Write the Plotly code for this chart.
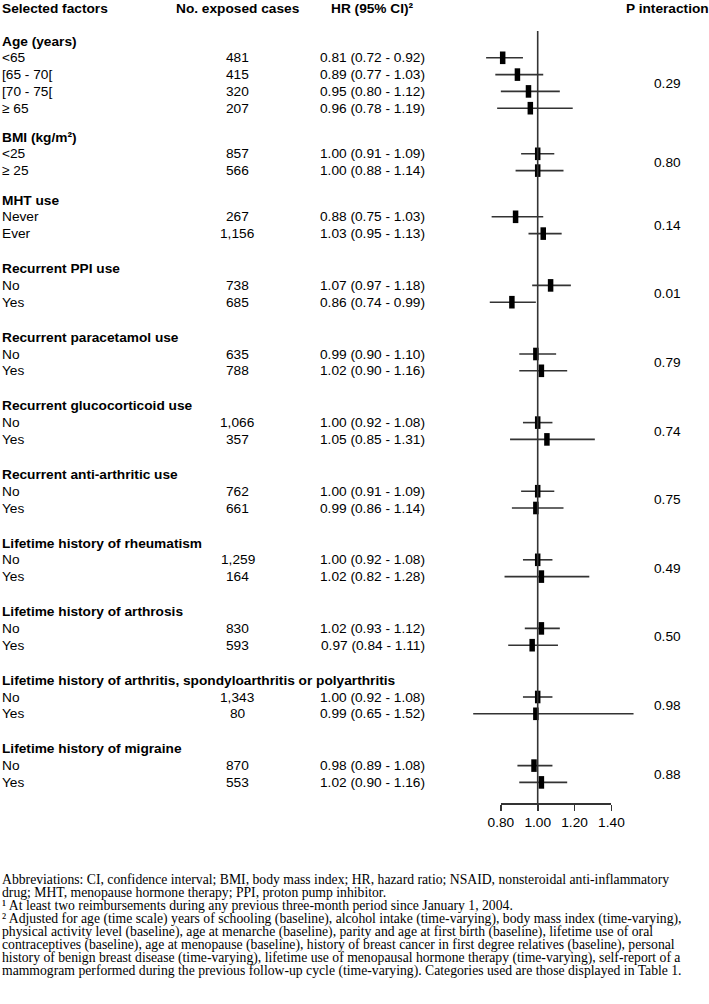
import plotly.graph_objects as go

# ---------------- data ----------------
group_names = [
    "Age (years)",
    "BMI (kg/m²)",
    "MHT use",
    "Recurrent PPI use",
    "Recurrent paracetamol use",
    "Recurrent glucocorticoid use",
    "Recurrent anti-arthritic use",
    "Lifetime history of rheumatism",
    "Lifetime history of arthrosis",
    "Lifetime history of arthritis, spondyloarthritis or polyarthritis",
    "Lifetime history of migraine",
]
group_sizes = [4, 2, 2, 2, 2, 2, 2, 2, 2, 2, 2]
p_interaction = ["0.29", "0.80", "0.14", "0.01", "0.79", "0.74", "0.75", "0.49", "0.50", "0.98", "0.88"]

row_labels = ["<65", "[65 - 70[", "[70 - 75[", "≥ 65",
              "<25", "≥ 25",
              "Never", "Ever",
              "No", "Yes", "No", "Yes", "No", "Yes", "No", "Yes",
              "No", "Yes", "No", "Yes", "No", "Yes", "No", "Yes"]
exposed_cases = [481, 415, 320, 207,
                 857, 566,
                 267, 1156,
                 738, 685, 635, 788, 1066, 357, 762, 661,
                 1259, 164, 830, 593, 1343, 80, 870, 553]
hr = [0.81, 0.89, 0.95, 0.96,
      1.00, 1.00,
      0.88, 1.03,
      1.07, 0.86, 0.99, 1.02, 1.00, 1.05, 1.00, 0.99,
      1.00, 1.02, 1.02, 0.97, 1.00, 0.99, 0.98, 1.02]
ci_low = [0.72, 0.77, 0.80, 0.78,
          0.91, 0.88,
          0.75, 0.95,
          0.97, 0.74, 0.90, 0.90, 0.92, 0.85, 0.91, 0.86,
          0.92, 0.82, 0.93, 0.84, 0.92, 0.65, 0.89, 0.90]
ci_high = [0.92, 1.03, 1.12, 1.19,
           1.09, 1.14,
           1.03, 1.13,
           1.18, 0.99, 1.10, 1.16, 1.08, 1.31, 1.09, 1.14,
           1.08, 1.28, 1.12, 1.11, 1.08, 1.52, 1.08, 1.16]
axis_ticks = [0.80, 1.00, 1.20, 1.40]

header_labels = ["Selected factors", "No. exposed cases", "HR (95% CI)²", "P interaction"]

footnotes = [
    "Abbreviations: CI, confidence interval; BMI, body mass index; HR, hazard ratio; NSAID, nonsteroidal anti-inflammatory",
    "drug; MHT, menopause hormone therapy; PPI, proton pump inhibitor.",
    "¹ At least two reimbursements during any previous three-month period since January 1, 2004.",
    "² Adjusted for age (time scale) years of schooling (baseline), alcohol intake (time-varying), body mass index (time-varying),",
    "physical activity level (baseline), age at menarche (baseline), parity and age at first birth (baseline), lifetime use of oral",
    "contraceptives (baseline), age at menopause (baseline), history of breast cancer in first degree relatives (baseline), personal",
    "history of benign breast disease (time-varying), lifetime use of menopausal hormone therapy (time-varying), self-report of a",
    "mammogram performed during the previous follow-up cycle (time-varying). Categories used are those displayed in Table 1.",
]

# ---------------- layout constants ----------------
W, H = 709, 1004
SANS = "Liberation Sans, Arial, sans-serif"
SERIF = "Liberation Serif, Times New Roman, serif"
FS = 13.7
REF_PX = 537.7          # pixel of HR = 1.00
PX_PER_UNIT = 184.3
LINE = 16.8
FIRST_HEAD = 41
group_gaps = [0, 12, 12.6] + [18.2] * 8
AXIS_Y = 803
REF_TOP = 31
COL_N = 238
COL_HR = 372.5
COL_P = 667
FOOT_Y0, FOOT_STEP, FOOT_FS = 879, 13.2, 13.7

def px(v):
    return REF_PX + (v - 1.0) * PX_PER_UNIT

# compute vertical positions
head_y, row_y, p_y = [], [], []
y = FIRST_HEAD
for gi, size in enumerate(group_sizes):
    if gi > 0:
        y += LINE + group_gaps[gi]
    head_y.append(y)
    ys = []
    for _ in range(size):
        y += LINE
        ys.append(y)
    row_y.extend(ys)
    p_y.append(sum(ys) / len(ys))

fig = go.Figure()

# CIs and point estimates
fig.add_trace(go.Scatter(
    x=hr, y=row_y, mode="markers",
    marker=dict(symbol="line-ns", size=9, line=dict(width=5.5, color="black")),
    error_x=dict(type="data", symmetric=False,
                 array=[h - e for e, h in zip(hr, ci_high)],
                 arrayminus=[e - l for e, l in zip(hr, ci_low)],
                 thickness=1.6, width=0, color="#333333"),
    showlegend=False, hoverinfo="skip", xaxis="x", yaxis="y",
))
# reference line at HR = 1, on the small axis subplot
fig.add_trace(go.Scatter(
    x=[1.0, 1.0], y=[REF_TOP, AXIS_Y], mode="lines",
    line=dict(color="#333333", width=1.6),
    showlegend=False, hoverinfo="skip", xaxis="x2", yaxis="y",
))

ann = []
def text(x, y, s, anchor="left", bold=False, font=SANS, size=FS):
    ann.append(dict(x=x / W, y=y, xref="paper", yref="y", text=(f"<b>{s}</b>" if bold else s),
                    showarrow=False, xanchor=anchor, yanchor="middle",
                    font=dict(family=font, size=size, color="black")))

# header
text(0, 8, header_labels[0], bold=True)
text(COL_N, 8, header_labels[1], "center", bold=True)
text(COL_HR, 8, header_labels[2], "center", bold=True)
text(COL_P, 8, header_labels[3], "center", bold=True)

for gi, g in enumerate(group_names):
    text(0, head_y[gi], g, bold=True)
    text(COL_P, p_y[gi], p_interaction[gi], "center")

for i, lab in enumerate(row_labels):
    text(0, row_y[i], lab)
    text(COL_N, row_y[i], f"{exposed_cases[i]:,}", "center")
    text(COL_HR, row_y[i], f"{hr[i]:.2f} ({ci_low[i]:.2f} - {ci_high[i]:.2f})", "center")

for k, line in enumerate(footnotes):
    text(0, FOOT_Y0 + k * FOOT_STEP, line, font=SERIF, size=FOOT_FS)

fig.update_layout(
    width=W, height=H, margin=dict(l=0, r=0, t=0, b=0, pad=0, autoexpand=False),
    paper_bgcolor="white", plot_bgcolor="rgba(0,0,0,0)",
    hovermode=False,
    xaxis=dict(range=[1 - REF_PX / PX_PER_UNIT, 1 + (W - REF_PX) / PX_PER_UNIT],
               visible=False, domain=[0, 1], fixedrange=True),
    xaxis2=dict(anchor="free", position=1 - AXIS_Y / H,
                domain=[px(axis_ticks[0]) / W, px(axis_ticks[-1]) / W],
                range=[axis_ticks[0], axis_ticks[-1]], fixedrange=True,
                tickvals=axis_ticks, ticktext=[f"{t:.2f}" for t in axis_ticks],
                ticks="outside", ticklen=6, tickwidth=1.6, tickcolor="#333333",
                showline=True, linewidth=1.6, linecolor="#333333",
                showgrid=False, zeroline=False, side="bottom",
                tickfont=dict(family=SANS, size=FS, color="black")),
    yaxis=dict(range=[H, 0], visible=False, domain=[0, 1], fixedrange=True),
    annotations=ann,
)

fig.write_html("out.html", config={"displayModeBar": False, "staticPlot": True},
               post_script="document.body.style.margin='0';document.body.style.overflow='hidden';")
